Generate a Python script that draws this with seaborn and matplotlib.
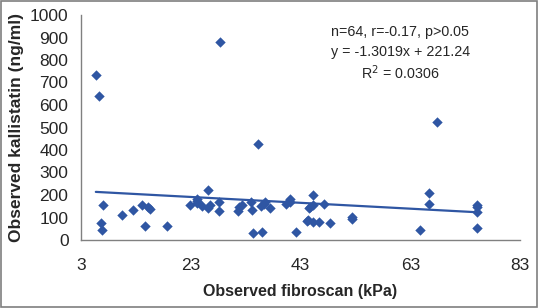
import matplotlib
matplotlib.use("Agg")
import matplotlib.pyplot as plt
import seaborn as sns
import numpy as np
import pandas as pd
from matplotlib.patches import Rectangle

# values
fibroscan = [5.7, 6.2, 28.4, 35.2, 67.9,
             7.1, 6.6, 6.8, 10.5, 12.5, 14.1, 15.2, 15.5, 14.7, 18.6, 22.9, 24.1,
             24.1, 24.2, 25.0, 26.2, 26.1, 26.5, 28.2, 28.1, 31.6, 31.8, 32.3,
             33.9, 34.2, 34.3, 36.0, 35.8, 36.3, 36.6, 37.5, 40.3, 41.0, 41.1,
             42.1, 44.3, 44.5,
             44.7, 45.2, 45.2, 44.2, 45.2, 46.3, 47.3, 48.4, 52.3, 52.3, 64.7,
             66.5, 66.5, 75.1, 75.1, 75.1, 75.1]
kallistatin = [735, 639, 879, 427, 526,
               155, 74, 44, 111, 132, 155, 147, 139, 62, 62, 155, 173,
               181, 163, 151, 222, 144, 155, 167, 129, 129, 145, 157,
               167, 133, 30, 34, 151, 159, 169, 141, 159, 184, 170,
               37, 89, 141,
               148, 157, 199, 86, 80, 80, 159, 77, 104, 92, 44,
               207, 159, 157, 145, 126, 55]

# trendline coefficients printed on the chart
slope = -1.3019
intercept = 221.24

df = pd.DataFrame({"fibroscan": fibroscan, "kallistatin": kallistatin})
xs = np.array([df.fibroscan.min(), df.fibroscan.max()])
trend = pd.DataFrame({"x": xs, "y": slope * xs + intercept})

sns.set_style("white")
plt.rcParams["font.family"] = ["Liberation Sans", "DejaVu Sans"]

fig = plt.figure(figsize=(5.38, 3.08), dpi=100)
ax = fig.add_axes([81 / 538, 1 - 240 / 308, 439 / 538, 225 / 308])

blue = "#2F56A3"
sns.scatterplot(data=df, x="fibroscan", y="kallistatin", marker="D", s=28,
                color=blue, edgecolor=blue, linewidth=0, ax=ax, zorder=3)
sns.lineplot(data=trend, x="x", y="y", color=blue, linewidth=1.6, ax=ax, zorder=2)

ax.set_xlim(3, 83)
ax.set_ylim(0, 1000)
ax.set_xticks(range(3, 84, 20))
ax.set_yticks(range(0, 1001, 100))
ax.tick_params(axis="both", labelsize=12.5, direction="out", length=4,
               width=1, color="#808080", pad=5)
ax.tick_params(axis="x", pad=9)

sns.despine(ax=ax)
for side in ["left", "bottom"]:
    ax.spines[side].set_color("#808080")
    ax.spines[side].set_linewidth(1)

ax.set_xlabel("Observed fibroscan (kPa)", fontsize=11.5, fontweight="bold", labelpad=8)
ax.set_ylabel("Observed kallistatin (ng/ml)", fontsize=12.5, fontweight="bold", labelpad=4)

ax.text(0.727, 0.925, "n=64, r=-0.17, p>0.05", transform=ax.transAxes,
        ha="center", va="center", fontsize=10.3)
ax.text(0.727, 0.835, "y = -1.3019x + 221.24", transform=ax.transAxes,
        ha="center", va="center", fontsize=10.3)
ax.text(0.727, 0.745, "R$^2$ = 0.0306", transform=ax.transAxes,
        ha="center", va="center", fontsize=10.3)

fig.add_artist(Rectangle((0.002, 0.003), 0.996, 0.994, transform=fig.transFigure,
                         fill=False, edgecolor="#7f7f7f", linewidth=1.2))

fig.savefig("out.png", dpi=100)
